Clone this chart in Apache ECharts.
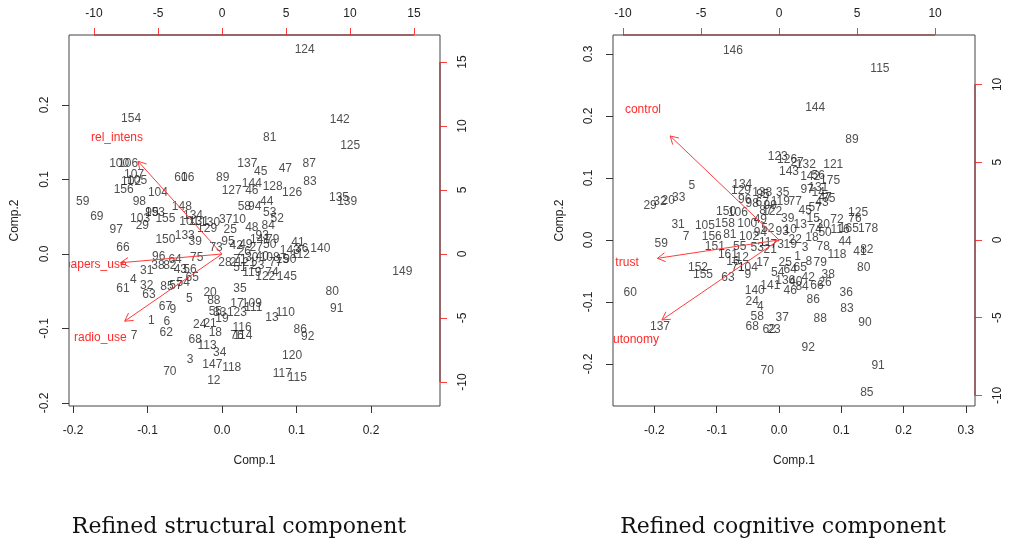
<!DOCTYPE html>
<html>
<head>
<meta charset="utf-8">
<script src="https://cdn.jsdelivr.net/npm/echarts@6/dist/echarts.min.js"></script>
<style>
html, body { margin: 0; padding: 0; background: #fff; }
#main { width: 1017px; height: 544px; }
</style>
</head>
<body>
<div id="main"></div>
<script>
// tick labels
var structCompTicks = [-0.2, -0.1, 0, 0.1, 0.2];
var structLoadTicks = [-10, -5, 0, 5, 10, 15];
var cogCompTicks = [-0.2, -0.1, 0, 0.1, 0.2, 0.3];
var cogLoadTicks = [-10, -5, 0, 5, 10];

// variable loadings (label position; arrow drawn to 0.8 of it, like R biplot)
var structLoadings = [
    ['rel_intens', -8.2, 9.06],
    ['papers_use', -9.9, -0.85],
    ['radio_use', -9.5, -6.56]
];
var cogLoadings = [
    ['control', -8.72, 8.36],
    ['trust', -9.74, -1.48],
    ['autonomy', -9.38, -6.43]
];

// observation scores: [id, Comp.1, Comp.2]
var structScores = [
    ['154',-0.122,0.181],['124',0.111,0.274],['142',0.158,0.180],['81',0.064,0.156],['125',0.172,0.145],
    ['100',-0.138,0.121],['106',-0.126,0.121],['107',-0.118,0.106],['102',-0.122,0.097],['105',-0.114,0.098],
    ['156',-0.132,0.087],['104',-0.086,0.083],['60',-0.055,0.103],['16',-0.046,0.102],['89',0.001,0.103],
    ['127',0.013,0.085],['59',-0.187,0.070],['98',-0.111,0.070],['148',-0.054,0.063],['69',-0.168,0.050],
    ['103',-0.110,0.048],['153',-0.090,0.056],['99',-0.094,0.055],['155',-0.076,0.048],['29',-0.107,0.038],
    ['134',-0.039,0.052],['101',-0.044,0.043],['131',-0.031,0.044],['130',-0.016,0.042],['37',0.005,0.046],
    ['10',0.023,0.046],['97',-0.142,0.032],['25',0.011,0.032],['133',-0.050,0.025],['39',-0.036,0.016],
    ['150',-0.076,0.019],['66',-0.133,0.009],['96',-0.085,-0.003],['64',-0.063,-0.008],['75',-0.034,-0.005],
    ['73',-0.008,0.009],['28',0.004,-0.012],['2',0.015,-0.011],['31',-0.101,-0.023],['38',-0.086,-0.015],
    ['82',-0.070,-0.015],['4',-0.119,-0.034],['61',-0.133,-0.046],['32',-0.101,-0.042],['63',-0.098,-0.054],
    ['85',-0.074,-0.044],['57',-0.062,-0.042],['54',-0.052,-0.039],['65',-0.040,-0.032],['56',-0.043,-0.021],
    ['43',-0.056,-0.021],['5',-0.044,-0.060],['20',-0.016,-0.052],['88',-0.011,-0.062],['17',0.020,-0.067],
    ['109',0.040,-0.066],['111',0.042,-0.072],['35',0.024,-0.046],['67',-0.076,-0.071],['9',-0.066,-0.075],
    ['1',-0.095,-0.090],['6',-0.074,-0.091],['62',-0.075,-0.105],['7',-0.118,-0.109],['55',-0.009,-0.078],
    ['33',-0.003,-0.079],['19',0.000,-0.087],['123',0.020,-0.079],['24',-0.030,-0.095],['21',-0.016,-0.093],
    ['18',-0.009,-0.105],['116',0.027,-0.099],['76',0.020,-0.109],['114',0.028,-0.110],['68',-0.036,-0.115],
    ['113',-0.020,-0.123],['34',-0.003,-0.133],['3',-0.043,-0.142],['147',-0.013,-0.149],['118',0.013,-0.153],
    ['70',-0.070,-0.158],['12',-0.011,-0.170],['137',0.034,0.121],['45',0.052,0.110],['47',0.085,0.114],
    ['87',0.117,0.121],['144',0.040,0.094],['46',0.040,0.085],['128',0.068,0.090],['126',0.094,0.082],
    ['83',0.118,0.097],['135',0.157,0.076],['139',0.168,0.070],['44',0.060,0.070],['58',0.030,0.063],
    ['94',0.044,0.063],['53',0.064,0.055],['52',0.074,0.047],['48',0.040,0.036],['84',0.062,0.038],
    ['93',0.054,0.025],['79',0.068,0.019],['50',0.064,0.012],['41',0.102,0.015],['143',0.091,0.005],
    ['36',0.107,0.007],['140',0.132,0.007],['112',0.105,-0.001],['149',0.242,-0.024],['108',0.064,-0.005],
    ['15',0.081,-0.008],['51',0.024,-0.019],['119',0.040,-0.025],['122',0.058,-0.030],['74',0.067,-0.025],
    ['145',0.087,-0.031],['80',0.148,-0.051],['91',0.154,-0.074],['13',0.067,-0.085],['110',0.085,-0.079],
    ['86',0.105,-0.101],['92',0.115,-0.111],['120',0.094,-0.136],['117',0.081,-0.161],['115',0.101,-0.166],
    ['42',0.019,0.011],['49',0.032,0.013],['26',0.030,0.003],['27',0.046,0.008],['30',0.040,-0.005],
    ['40',0.054,-0.003],['71',0.024,-0.007],['77',0.072,-0.011],['90',0.091,-0.008],['23',0.048,-0.015],
    ['121',0.032,-0.011],['95',0.008,0.016],['141',0.051,0.019],['129',-0.020,0.034]
];

var cogScores = [
    ['146',-0.074,0.306],['115',0.162,0.277],['144',0.058,0.213],['89',0.117,0.161],['123',-0.002,0.134],
    ['126',0.013,0.129],['27',0.029,0.124],['132',0.043,0.121],['121',0.087,0.121],['143',0.016,0.110],
    ['142',0.050,0.102],['56',0.063,0.103],['175',0.082,0.095],['131',0.063,0.085],['14',0.063,0.076],
    ['47',0.074,0.068],['43',0.069,0.060],['125',0.127,0.044],['76',0.122,0.035],['72',0.093,0.032],
    ['165',0.112,0.018],['178',0.143,0.019],['116',0.098,0.016],['30',0.071,0.024],['50',0.074,0.011],
    ['44',0.106,-0.002],['118',0.093,-0.024],['78',0.071,-0.011],['41',0.130,-0.019],['82',0.141,-0.016],
    ['80',0.136,-0.044],['38',0.079,-0.056],['26',0.074,-0.069],['36',0.108,-0.085],['83',0.109,-0.110],
    ['86',0.055,-0.097],['88',0.066,-0.127],['90',0.138,-0.134],['92',0.047,-0.173],['91',0.159,-0.203],
    ['85',0.141,-0.247],['37',0.005,-0.126],['84',0.037,-0.076],['5',-0.140,0.087],['29',-0.207,0.056],
    ['32',-0.191,0.061],['20',-0.178,0.063],['33',-0.161,0.068],['134',-0.059,0.090],['129',-0.061,0.079],
    ['138',-0.027,0.077],['35',0.006,0.077],['98',-0.043,0.058],['67',-0.027,0.060],['119',0.002,0.061],
    ['122',-0.011,0.045],['150',-0.085,0.045],['106',-0.066,0.044],['31',-0.162,0.024],['7',-0.149,0.006],
    ['59',-0.189,-0.006],['105',-0.119,0.023],['156',-0.108,0.006],['158',-0.087,0.027],['100',-0.051,0.027],
    ['102',-0.048,0.006],['151',-0.103,-0.011],['152',-0.130,-0.044],['155',-0.122,-0.056],['63',-0.082,-0.060],
    ['104',-0.050,-0.044],['9',-0.050,-0.056],['60',-0.239,-0.085],['137',-0.191,-0.140],['140',-0.039,-0.081],
    ['141',-0.014,-0.073],['24',-0.043,-0.100],['4',-0.030,-0.108],['58',-0.035,-0.123],['68',-0.043,-0.140],
    ['62',-0.016,-0.144],['23',-0.008,-0.145],['70',-0.019,-0.211],['54',-0.002,-0.052],['136',0.010,-0.065],
    ['161',-0.082,-0.024],['16',-0.074,-0.035],['12',-0.059,-0.029],['17',-0.026,-0.037],['21',-0.014,-0.016],
    ['11',-0.022,-0.005],['19',0.018,-0.008],['22',0.026,0.000],['25',0.010,-0.037],['1',0.030,-0.027],
    ['3',0.042,-0.013],['8',0.048,-0.035],['10',0.018,0.016],['13',0.034,0.024],['15',0.055,0.035],
    ['18',0.053,0.003],['45',0.042,0.048],['57',0.058,0.052],['39',0.014,0.035],['40',0.027,-0.068],
    ['42',0.047,-0.061],['46',0.018,-0.081],['49',-0.030,0.032],['52',-0.018,0.019],['53',-0.035,-0.013],
    ['55',-0.063,-0.011],['64',0.018,-0.048],['65',0.034,-0.045],['66',0.061,-0.073],['71',-0.066,-0.045],
    ['73',-0.003,-0.008],['74',0.058,0.016],['75',0.080,0.066],['77',0.026,0.061],['79',0.066,-0.037],
    ['81',-0.079,0.008],['87',-0.021,0.047],['93',0.005,0.013],['94',-0.030,0.011],['95',-0.026,0.073],
    ['96',-0.055,0.065],['97',0.045,0.081],['99',-0.014,0.056]
];

var txtFont = 'Liberation Sans';
var arrowRed = '#ff3b3b';

function fmt1(v) { return v.toFixed(1); }
function fmt0(v) { return String(v); }

function scoreData(rows) {
    return rows.map(function (r) { return { name: r[0], value: [r[1], r[2]] }; });
}

function arrowSeries(loadings, axisIdx) {
    return {
        type: 'custom',
        xAxisIndex: axisIdx, yAxisIndex: axisIdx,
        clip: true, silent: true, z: 5,
        data: loadings.map(function (r) { return [r[1], r[2]]; }),
        renderItem: function (params, api) {
            var x = api.value(0), y = api.value(1);
            var o = api.coord([0, 0]);
            var t = api.coord([x * 0.8, y * 0.8]);
            var l = api.coord([x, y]);
            var ang = Math.atan2(t[1] - o[1], t[0] - o[0]);
            var h = 9, a1 = ang + Math.PI - Math.PI / 6, a2 = ang + Math.PI + Math.PI / 6;
            return {
                type: 'group',
                children: [
                    { type: 'line', shape: { x1: o[0], y1: o[1], x2: t[0], y2: t[1] },
                      style: { stroke: arrowRed, lineWidth: 1 } },
                    { type: 'polyline',
                      shape: { points: [[t[0] + h * Math.cos(a1), t[1] + h * Math.sin(a1)], t,
                                        [t[0] + h * Math.cos(a2), t[1] + h * Math.sin(a2)]] },
                      style: { stroke: arrowRed, fill: null, lineWidth: 1 } },
                    { type: 'text', x: l[0], y: l[1],
                      style: { text: loadings[params.dataIndex][0], fill: '#ff2a2a',
                               font: '12px "' + txtFont + '"',
                               align: 'center', verticalAlign: 'middle',
                               textAlign: 'center', textVerticalAlign: 'middle' } }
                ]
            };
        }
    };
}

// red axis line overlapping the box on top and right, from first to last tick
function loadAxisLine(topTicks, rightTicks, axisIdx, xMax, yMax) {
    return {
        type: 'custom', xAxisIndex: axisIdx, yAxisIndex: axisIdx,
        silent: true, z: 6, data: [0],
        renderItem: function (params, api) {
            var a = api.coord([topTicks[0], yMax]), b = api.coord([topTicks[topTicks.length - 1], yMax]);
            var c = api.coord([xMax, rightTicks[0]]), d = api.coord([xMax, rightTicks[rightTicks.length - 1]]);
            return {
                type: 'group',
                children: [
                    { type: 'line', shape: { x1: a[0], y1: a[1], x2: b[0], y2: b[1] }, style: { stroke: '#8b2a2a', lineWidth: 1 } },
                    { type: 'line', shape: { x1: c[0], y1: c[1], x2: d[0], y2: d[1] }, style: { stroke: '#8b2a2a', lineWidth: 1 } }
                ]
            };
        }
    };
}

function scoreSeries(rows, axisIdx) {
    return {
        type: 'scatter', xAxisIndex: axisIdx, yAxisIndex: axisIdx,
        symbolSize: 0, silent: true, z: 4,
        data: scoreData(rows),
        label: { show: true, position: 'inside', formatter: '{b}',
                 color: '#222', fontSize: 12, fontFamily: txtFont }
    };
}

var labelStyle = { color: '#222', fontSize: 12, fontFamily: txtFont };

function bottomAxis(grid, min, max, ticks) {
    return {
        type: 'value', gridIndex: grid, position: 'bottom', min: min, max: max,
        axisLine: { show: false, onZero: false }, splitLine: { show: false },
        axisTick: { show: true, customValues: ticks, length: 7, lineStyle: { color: '#333' } },
        axisLabel: Object.assign({ customValues: ticks, formatter: fmt1, margin: 19 }, labelStyle),
        name: 'Comp.1', nameLocation: 'middle', nameGap: 49,
        nameTextStyle: { color: '#222', fontSize: 12, fontFamily: txtFont }
    };
}
function topAxis(grid, min, max, ticks) {
    return {
        type: 'value', gridIndex: grid, position: 'top', min: min, max: max,
        axisLine: { show: false, onZero: false }, splitLine: { show: false },
        axisTick: { show: true, customValues: ticks, length: 7, lineStyle: { color: arrowRed } },
        axisLabel: Object.assign({ customValues: ticks, formatter: fmt0, margin: 15 }, labelStyle)
    };
}
function leftAxis(grid, min, max, ticks, gap) {
    return {
        type: 'value', gridIndex: grid, position: 'left', min: min, max: max,
        axisLine: { show: false, onZero: false }, splitLine: { show: false },
        axisTick: { show: true, customValues: ticks, length: 7, lineStyle: { color: '#333' } },
        axisLabel: Object.assign({ customValues: ticks, formatter: fmt1, rotate: 90, margin: 18 }, labelStyle),
        name: 'Comp.2', nameLocation: 'middle', nameGap: gap,
        nameTextStyle: { color: '#222', fontSize: 12, fontFamily: txtFont }
    };
}
function rightAxis(grid, min, max, ticks) {
    return {
        type: 'value', gridIndex: grid, position: 'right', min: min, max: max,
        axisLine: { show: false, onZero: false }, splitLine: { show: false },
        axisTick: { show: true, customValues: ticks, length: 7, lineStyle: { color: arrowRed } },
        axisLabel: Object.assign({ customValues: ticks, formatter: fmt0, rotate: 90, margin: 17 }, labelStyle)
    };
}

var chart = echarts.init(document.getElementById('main'), null, { renderer: 'canvas' });
chart.setOption({
    animation: false,
    backgroundColor: '#fff',
    grid: [
        { left: 69, top: 35, width: 371, height: 371, show: true, borderColor: '#444', borderWidth: 1 },
        { left: 613, top: 35, width: 362, height: 371, show: true, borderColor: '#444', borderWidth: 1 }
    ],
    xAxis: [
        bottomAxis(0, -0.2054, 0.2926, structCompTicks),
        topAxis(0, -11.95, 17.03, structLoadTicks),
        bottomAxis(1, -0.2665, 0.3146, cogCompTicks),
        topAxis(1, -10.64, 12.56, cogLoadTicks)
    ],
    yAxis: [
        leftAxis(0, -0.204, 0.294, structCompTicks, 48),
        rightAxis(0, -11.875, 17.11, structLoadTicks),
        leftAxis(1, -0.2677, 0.3306, cogCompTicks, 47),
        rightAxis(1, -10.68, 13.18, cogLoadTicks)
    ],
    series: [
        scoreSeries(structScores, 0),
        arrowSeries(structLoadings, 1),
        loadAxisLine(structLoadTicks, structLoadTicks, 1, 17.03, 17.11),
        scoreSeries(cogScores, 2),
        arrowSeries(cogLoadings, 3),
        loadAxisLine(cogLoadTicks, cogLoadTicks, 3, 12.56, 13.18)
    ],
    graphic: [
        { type: 'text', x: 239, y: 527, silent: true,
          style: { text: 'Refined structural component', font: '22px "DejaVu Serif"', fill: '#111',
                   align: 'center', verticalAlign: 'middle', textAlign: 'center', textVerticalAlign: 'middle' } },
        { type: 'text', x: 783, y: 527, silent: true,
          style: { text: 'Refined cognitive component', font: '22px "DejaVu Serif"', fill: '#111',
                   align: 'center', verticalAlign: 'middle', textAlign: 'center', textVerticalAlign: 'middle' } }
    ]
});
</script>
</body>
</html>
